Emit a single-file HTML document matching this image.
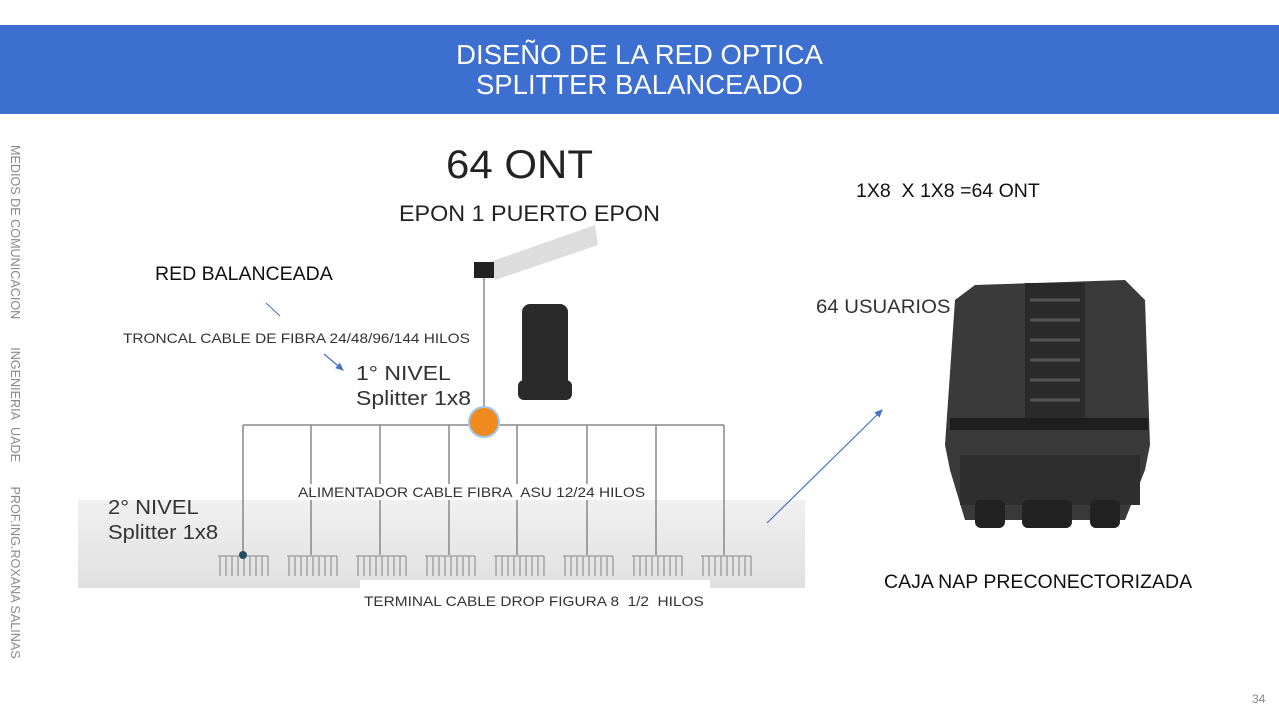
<!DOCTYPE html>
<html><head><meta charset="utf-8"><style>
html,body{margin:0;padding:0;width:1279px;height:720px;overflow:hidden;background:#fff;font-family:"Liberation Sans",sans-serif}
.t{position:absolute;white-space:nowrap}
</style></head><body>
<div style="position:absolute;left:0;top:25px;width:1279px;height:89px;background:#3d6fd1"></div>
<div class="t" style="left:0;width:1279px;top:40px;text-align:center;color:#fff;font-size:27.5px;line-height:30px;">DISEÑO DE LA RED OPTICA<br>SPLITTER BALANCEADO</div>
<div class="t" style="left:8px;top:145px;writing-mode:vertical-rl;color:#8a8a8a;font-size:12.6px;">MEDIOS DE COMUNICACION&nbsp;&nbsp;&nbsp;&nbsp;&nbsp;&nbsp;&nbsp;&nbsp;INGENIERIA&nbsp;&nbsp;UADE&nbsp;&nbsp;&nbsp;&nbsp;&nbsp;&nbsp;&nbsp;PROF.ING.ROXANA SALINAS</div>
<svg style="position:absolute;left:0;top:0" width="1279" height="720">
<defs><linearGradient id="g" x1="0" y1="0" x2="0" y2="1"><stop offset="0" stop-color="#fff"/><stop offset="1" stop-color="#dcdcdc"/></linearGradient>
<marker id="a" markerWidth="8" markerHeight="8" refX="6" refY="3" orient="auto"><path d="M0,0 L7,3 L0,6z" fill="#4472c4"/></marker></defs>
<rect x="78" y="495" width="727" height="93" fill="url(#g)"/>
<rect x="78" y="500" width="727" height="88" fill="#e4e4e4" opacity="0.5"/>
<rect x="360" y="580" width="350" height="30" fill="#fff"/>
<g stroke="#888" stroke-width="1.5" fill="none">
<line x1="243" y1="425" x2="724" y2="425"/>
<line x1="484" y1="278" x2="484" y2="425"/>
<line x1="243" y1="425" x2="243" y2="555"/><line x1="311" y1="425" x2="311" y2="555"/><line x1="380" y1="425" x2="380" y2="555"/><line x1="449" y1="425" x2="449" y2="555"/><line x1="517" y1="425" x2="517" y2="555"/><line x1="587" y1="425" x2="587" y2="555"/><line x1="656" y1="425" x2="656" y2="555"/><line x1="724" y1="425" x2="724" y2="555"/>
</g>
<g stroke="#999" stroke-width="1.3">
<path d="M218,556h50 M220,556v20 M226,556v20 M232,556v20 M238,556v20 M244,556v20 M250,556v20 M256,556v20 M262,556v20 M268,556v20"/>
</g>
<g stroke="#999" stroke-width="1.3">
<path id="c" d="M0,0h50 M2,0v20 M8,0v20 M14,0v20 M20,0v20 M26,0v20 M32,0v20 M38,0v20 M44,0v20 M50,0v20" transform="translate(287,556)"/>
<use href="#c" x="69"/><use href="#c" x="138"/><use href="#c" x="207"/><use href="#c" x="276"/><use href="#c" x="345"/><use href="#c" x="414"/>
</g>
<circle cx="243" cy="555" r="4" fill="#1f4f5f"/>
<circle cx="484" cy="422" r="15" fill="#f08a1e" stroke="#9ec8ee" stroke-width="2"/>
<path d="M490,262 L595,225 L598,245 L495,280z" fill="#ddd"/>
<path d="M474,262 h20 v16 h-20z" fill="#222"/>
<rect x="522" y="304" width="46" height="96" rx="8" fill="#2a2a2a"/>
<rect x="518" y="380" width="54" height="20" rx="6" fill="#2a2a2a"/>
<line x1="266" y1="303" x2="280" y2="316" stroke="#4472c4" stroke-width="1"/>
<line x1="324" y1="354" x2="343" y2="370" stroke="#4472c4" stroke-width="1.2" marker-end="url(#a)"/>
<line x1="767" y1="523" x2="882" y2="410" stroke="#4472c4" stroke-width="1.2" marker-end="url(#a)"/>
<path d="M975,285 L1125,280 L1145,300 L1150,445 L1145,470 L1125,520 L965,520 L950,470 L945,445 L955,300z" fill="#3a3a3a"/>
<path d="M1025,283 h60 v135 h-60z" fill="#2a2a2a"/>
<g stroke="#555" stroke-width="3"><line x1="1030" y1="300" x2="1080" y2="300"/><line x1="1030" y1="320" x2="1080" y2="320"/><line x1="1030" y1="340" x2="1080" y2="340"/><line x1="1030" y1="360" x2="1080" y2="360"/><line x1="1030" y1="380" x2="1080" y2="380"/><line x1="1030" y1="400" x2="1080" y2="400"/></g>
<rect x="950" y="418" width="198" height="12" fill="#1e1e1e"/>
<rect x="960" y="455" width="180" height="50" fill="#2e2e2e"/>
<rect x="975" y="500" width="30" height="28" rx="6" fill="#222"/><rect x="1022" y="500" width="50" height="28" rx="6" fill="#222"/><rect x="1090" y="500" width="30" height="28" rx="6" fill="#222"/>
</svg>
<div class="t" style="left:446px;top:143px;font-size:40px;color:#222;transform:scaleX(1.05);transform-origin:left;">64 ONT</div>
<div class="t" style="left:399px;top:201px;font-size:22px;color:#222;transform:scaleX(1.06);transform-origin:left;">EPON 1 PUERTO EPON</div>
<div class="t" style="left:155px;top:263px;font-size:19.5px;color:#111;">RED BALANCEADA</div>
<div class="t" style="left:123px;top:330px;font-size:14px;color:#333;transform:scaleX(1.1);transform-origin:left;">TRONCAL CABLE DE FIBRA 24/48/96/144 HILOS</div>
<div class="t" style="left:356px;top:362px;font-size:20px;line-height:25px;color:#333;transform:scaleX(1.15);transform-origin:left;">1° NIVEL<br>Splitter 1x8</div>
<div class="t" style="left:298px;top:484px;font-size:14px;color:#333;background:#fff;transform:scaleX(1.1);transform-origin:left;">ALIMENTADOR CABLE FIBRA&nbsp; ASU 12/24 HILOS</div>
<div class="t" style="left:108px;top:496px;font-size:20px;line-height:25px;color:#333;transform:scaleX(1.1);transform-origin:left;">2° NIVEL<br>Splitter 1x8</div>
<div class="t" style="left:364px;top:593px;font-size:14px;color:#333;transform:scaleX(1.1);transform-origin:left;">TERMINAL CABLE DROP FIGURA 8&nbsp; 1/2&nbsp; HILOS</div>
<div class="t" style="left:856px;top:180px;font-size:19.5px;color:#111;">1X8&nbsp; X 1X8 =64 ONT</div>
<div class="t" style="left:816px;top:297px;font-size:19px;color:#333;transform:scaleX(1.07);transform-origin:left;">64 USUARIOS</div>
<div class="t" style="left:884px;top:571px;font-size:19.5px;color:#111;">CAJA NAP PRECONECTORIZADA</div>
<div class="t" style="left:1252px;top:692px;font-size:12px;color:#888;">34</div>
</body></html>
